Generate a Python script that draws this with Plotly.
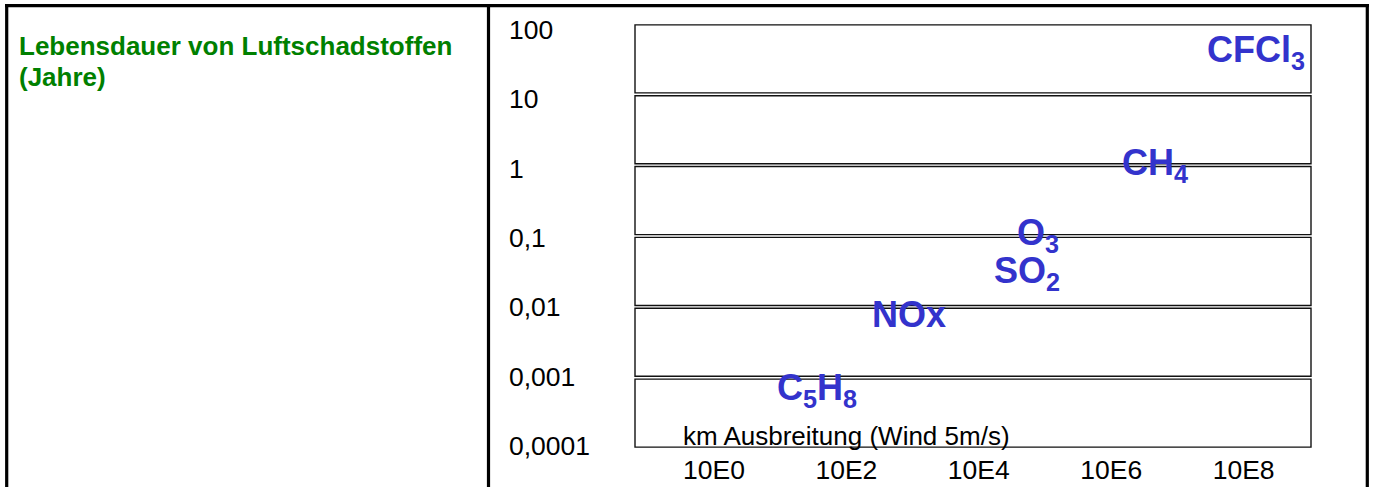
import numpy as np
import plotly.graph_objects as go

# ---------------- data ----------------
SUBSTANCES = ["CFCl<sub>3</sub>", "CH<sub>4</sub>", "O<sub>3</sub>", "SO<sub>2</sub>", "NOx",
              "C<sub>5</sub>H<sub>8</sub>"]
SPREAD_KM = [2.6e7, 1.35e6, 3.5e4, 1.6e4, 2.3e2, 8.3e0]          # km Ausbreitung
LIFETIME_YEARS = [40, 1.0, 0.105, 0.03, 0.0079, 0.00068]         # Lebensdauer (Jahre)

Y_TICK_VALUES = [100, 10, 1, 0.1, 0.01, 0.001, 0.0001]
Y_TICK_LABELS = ["100", "10", "1", "0,1", "0,01", "0,001", "0,0001"]
X_TICK_VALUES = [1e0, 1e2, 1e4, 1e6, 1e8]
X_TICK_LABELS = ["10E0", "10E2", "10E4", "10E6", "10E8"]
TITLE_LINES = ["Lebensdauer von Luftschadstoffen", "(Jahre)"]
X_TITLE = "km Ausbreitung (Wind 5m/s)"

# ---------------- layout geometry ----------------
W, H = 1374, 487
ML, MR, MT, MB = 500, 60, 22, 37
PLOT_L = 632
PAPER_W = W - ML - MR
PAPER_H = H - MT - MB
FONT = "Liberation Sans, Arial, Helvetica, sans-serif"
BLUE = "rgb(51,51,204)"
GREEN = "rgb(0,128,0)"


def px_u(px):
    return (px - ML) / PAPER_W


def py_v(py):
    return 1 - (py - MT) / PAPER_H


fig = go.Figure()

# invisible trace to create the axes
fig.add_trace(go.Scatter(x=np.log10(SPREAD_KM), y=np.log10(LIFETIME_YEARS), mode="markers",
                         marker=dict(opacity=0), hoverinfo="skip", showlegend=False))
fig.add_trace(go.Scatter(x=[None], y=[None], yaxis="y2", showlegend=False, hoverinfo="skip"))

# decade bands
ylog = np.log10(Y_TICK_VALUES)
gap = 0.02
for top, bot in zip(ylog[:-1], ylog[1:]):
    fig.add_shape(type="rect", xref="x domain", yref="y",
                  x0=0.0044, x1=0.9956, y0=bot + gap, y1=top - gap,
                  line=dict(color="#111111", width=1.4), fillcolor="rgba(0,0,0,0)", layer="below")

# molecule labels
for name, km, yrs in zip(SUBSTANCES, SPREAD_KM, LIFETIME_YEARS):
    fig.add_annotation(x=np.log10(km), y=np.log10(yrs), xref="x", yref="y", text=name,
                       showarrow=False, xanchor="left", yanchor="middle",
                       font=dict(family=FONT, size=36, color=BLUE, weight="bold"))

# x title inside plot
fig.add_annotation(x=(681 - PLOT_L) / (W - MR - PLOT_L), y=-0.006, xref="x domain", yref="y domain",
                   text=X_TITLE, showarrow=False, xanchor="left", yanchor="bottom",
                   font=dict(family=FONT, size=26, color="black"))

# title (two lines)
for line, yc in zip(TITLE_LINES, [46, 77]):
    fig.add_annotation(x=px_u(17), y=py_v(yc), xref="paper", yref="paper", text=line,
                       showarrow=False, xanchor="left", yanchor="middle",
                       font=dict(family=FONT, size=26, color=GREEN, weight="bold"))

# table frame
frame = dict(color="black", width=3.2)
fig.add_shape(type="line", xref="paper", yref="paper", x0=px_u(5), x1=px_u(1369),
              y0=py_v(5.7), y1=py_v(5.7), line=frame)
for xp in [6.7, 488.5, 1367.3]:
    fig.add_shape(type="line", xref="paper", yref="paper", x0=px_u(xp), x1=px_u(xp),
                  y0=py_v(4.2), y1=py_v(492), line=frame)

px_per_dec = 66.2
x0px = 714
fig.update_layout(
    width=W, height=H,
    margin=dict(l=ML, r=MR, t=MT, b=MB, autoexpand=False),
    paper_bgcolor="white", plot_bgcolor="white",
    showlegend=False,
    xaxis=dict(domain=[px_u(PLOT_L), 1], automargin=False,
               range=[(PLOT_L - x0px) / px_per_dec, (W - MR - x0px) / px_per_dec],
               tickvals=np.log10(X_TICK_VALUES), ticktext=X_TICK_LABELS,
               showgrid=False, zeroline=False, showline=False, ticks="",
               tickfont=dict(family=FONT, size=26.5, color="black"), ticklabelstandoff=1),
    yaxis=dict(range=[-4.02, 2.02], showgrid=False, zeroline=False, showline=False,
               showticklabels=False, ticks="", automargin=False),
    yaxis2=dict(overlaying="y", anchor="free", position=0, side="right", automargin=False,
                range=[-4.0576, 2.108], tickvals=ylog, ticktext=Y_TICK_LABELS,
                showgrid=False, zeroline=False, showline=False, ticks="",
                tickfont=dict(family=FONT, size=26.5, color="black"), ticklabelstandoff=8),
)

fig.write_html("out.html", config={"displayModeBar": False},
               post_script="document.body.style.margin='0';document.body.style.padding='0';")
